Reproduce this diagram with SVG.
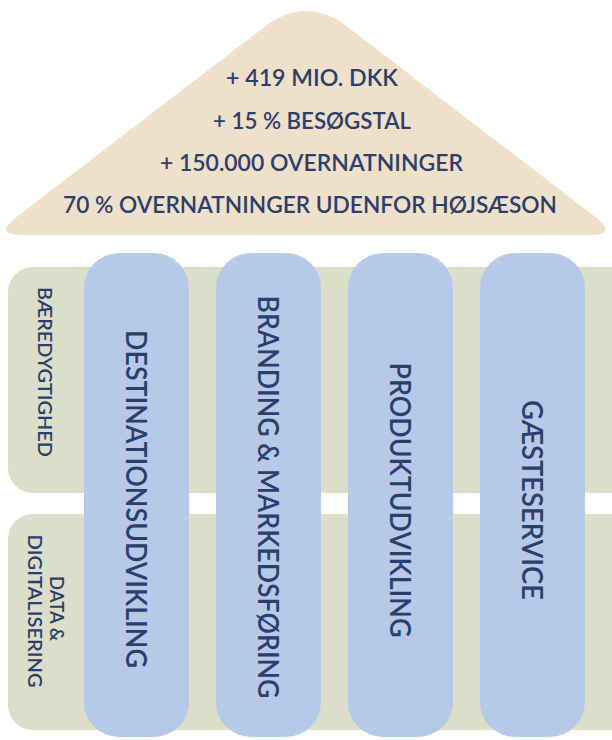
<svg xmlns="http://www.w3.org/2000/svg" width="612" height="740" viewBox="0 0 612 740">
  <style>
    .roof { fill: #EFE0CA; }
    .band { fill: #DCDECA; }
    .pillar { fill: #B6C9E9; }
    .t { font-family: Lato, "Liberation Sans", sans-serif; fill: #2C3E6B; font-weight: 600; }
    .roofTxt { font-size: 23px; text-anchor: middle; }
    .pTxt { font-size: 28.5px; text-anchor: middle; }
    .sTxt { font-size: 20px; text-anchor: middle; }
  </style>
  <rect width="612" height="740" fill="#FFFFFF"/>
  <g id="roof">
    <path class="roof" d="M263,28 Q306,-6 349,28 L595.2,216.7 Q619,235 589,235 L23,235 Q-7,235 16.8,216.7 Z"/>
    <text class="t roofTxt" x="312" y="86" textLength="172" lengthAdjust="spacingAndGlyphs">+ 419 MIO. DKK</text>
    <text class="t roofTxt" x="312" y="129" textLength="198" lengthAdjust="spacingAndGlyphs">+ 15 % BESØGSTAL</text>
    <text class="t roofTxt" x="311.5" y="171" textLength="303" lengthAdjust="spacingAndGlyphs">+ 150.000 OVERNATNINGER</text>
    <text class="t roofTxt" x="310" y="213" textLength="494" lengthAdjust="spacingAndGlyphs">70 % OVERNATNINGER UDENFOR HØJSÆSON</text>
  </g>
  <g id="band-baeredygtighed">
    <rect class="band" x="8" y="267" width="630" height="226" rx="25"/>
    <text class="t sTxt" transform="translate(45,372) rotate(90)" y="7.2" textLength="170" lengthAdjust="spacingAndGlyphs">BÆREDYGTIGHED</text>
  </g>
  <g id="band-data">
    <rect class="band" x="8" y="514" width="630" height="216" rx="25"/>
    <text class="t sTxt" transform="translate(53,611) rotate(90)" y="7.2">
      <tspan x="0" dy="-4" textLength="65" lengthAdjust="spacingAndGlyphs">DATA &amp;</tspan>
      <tspan x="0" dy="22" textLength="153" lengthAdjust="spacingAndGlyphs">DIGITALISERING</tspan>
    </text>
  </g>
  <g id="pillar-destination">
    <rect class="pillar" x="84" y="253" width="105" height="484" rx="35"/>
    <text class="t pTxt" transform="translate(136.5,499) rotate(90)" y="10.2" textLength="338" lengthAdjust="spacingAndGlyphs">DESTINATIONSUDVIKLING</text>
  </g>
  <g id="pillar-branding">
    <rect class="pillar" x="216" y="253" width="105" height="484" rx="35"/>
    <text class="t pTxt" transform="translate(268.5,497) rotate(90)" y="10.2" textLength="403" lengthAdjust="spacingAndGlyphs">BRANDING &amp; MARKEDSFØRING</text>
  </g>
  <g id="pillar-produkt">
    <rect class="pillar" x="348" y="253" width="105" height="484" rx="35"/>
    <text class="t pTxt" transform="translate(400.5,500) rotate(90)" y="10.2" textLength="275" lengthAdjust="spacingAndGlyphs">PRODUKTUDVIKLING</text>
  </g>
  <g id="pillar-gaesteservice">
    <rect class="pillar" x="480" y="253" width="105" height="484" rx="35"/>
    <text class="t pTxt" transform="translate(532.5,500) rotate(90)" y="10.2" textLength="200" lengthAdjust="spacingAndGlyphs">GÆSTESERVICE</text>
  </g>
  <g id="connectors"/>
</svg>
